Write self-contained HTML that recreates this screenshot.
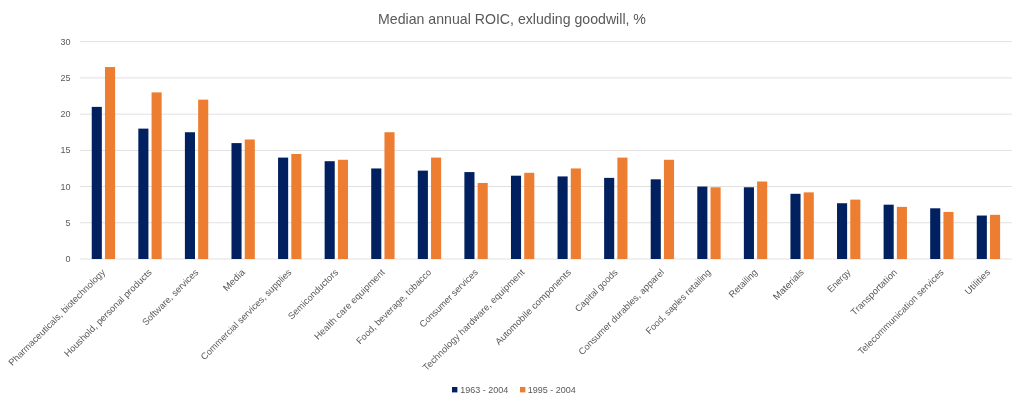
<!DOCTYPE html>
<html lang="en"><head><meta charset="utf-8"><title>Median annual ROIC</title>
<style>html,body{margin:0;padding:0;background:#fff;}body{width:1024px;height:406px;overflow:hidden;}svg{display:block;}text{font-family:"Liberation Sans",sans-serif;fill:#595959;}</style></head><body>
<svg width="1024" height="406" viewBox="0 0 1024 406">
<rect width="1024" height="406" fill="#fff"/>
<text x="512" y="23.8" font-size="14.1" text-anchor="middle" textLength="267.9" lengthAdjust="spacingAndGlyphs">Median annual ROIC, exluding goodwill, %</text>
<rect x="80.1" y="258.60" width="931.6" height="0.8" fill="#D9D9D9"/>
<text x="70.6" y="262.00" font-size="9" text-anchor="end">0</text>
<rect x="80.1" y="222.38" width="931.6" height="0.8" fill="#D9D9D9"/>
<text x="70.6" y="225.78" font-size="9" text-anchor="end">5</text>
<rect x="80.1" y="186.17" width="931.6" height="0.8" fill="#D9D9D9"/>
<text x="70.6" y="189.57" font-size="9" text-anchor="end">10</text>
<rect x="80.1" y="149.95" width="931.6" height="0.8" fill="#D9D9D9"/>
<text x="70.6" y="153.35" font-size="9" text-anchor="end">15</text>
<rect x="80.1" y="113.73" width="931.6" height="0.8" fill="#D9D9D9"/>
<text x="70.6" y="117.13" font-size="9" text-anchor="end">20</text>
<rect x="80.1" y="77.52" width="931.6" height="0.8" fill="#D9D9D9"/>
<text x="70.6" y="80.92" font-size="9" text-anchor="end">25</text>
<rect x="80.1" y="41.30" width="931.6" height="0.8" fill="#D9D9D9"/>
<text x="70.6" y="44.70" font-size="9" text-anchor="end">30</text>
<rect x="91.74" y="106.89" width="10.1" height="152.11" fill="#002060"/>
<rect x="104.99" y="67.05" width="10.1" height="191.95" fill="#ED7D31"/>
<rect x="138.32" y="128.62" width="10.1" height="130.38" fill="#002060"/>
<rect x="151.57" y="92.40" width="10.1" height="166.60" fill="#ED7D31"/>
<rect x="184.90" y="132.24" width="10.1" height="126.76" fill="#002060"/>
<rect x="198.15" y="99.65" width="10.1" height="159.35" fill="#ED7D31"/>
<rect x="231.48" y="143.11" width="10.1" height="115.89" fill="#002060"/>
<rect x="244.73" y="139.48" width="10.1" height="119.52" fill="#ED7D31"/>
<rect x="278.06" y="157.59" width="10.1" height="101.41" fill="#002060"/>
<rect x="291.31" y="153.97" width="10.1" height="105.03" fill="#ED7D31"/>
<rect x="324.64" y="161.21" width="10.1" height="97.79" fill="#002060"/>
<rect x="337.89" y="159.77" width="10.1" height="99.23" fill="#ED7D31"/>
<rect x="371.22" y="168.46" width="10.1" height="90.54" fill="#002060"/>
<rect x="384.47" y="132.24" width="10.1" height="126.76" fill="#ED7D31"/>
<rect x="417.80" y="170.63" width="10.1" height="88.37" fill="#002060"/>
<rect x="431.05" y="157.59" width="10.1" height="101.41" fill="#ED7D31"/>
<rect x="464.38" y="172.08" width="10.1" height="86.92" fill="#002060"/>
<rect x="477.63" y="182.94" width="10.1" height="76.06" fill="#ED7D31"/>
<rect x="510.96" y="175.70" width="10.1" height="83.30" fill="#002060"/>
<rect x="524.21" y="172.80" width="10.1" height="86.20" fill="#ED7D31"/>
<rect x="557.54" y="176.43" width="10.1" height="82.57" fill="#002060"/>
<rect x="570.79" y="168.46" width="10.1" height="90.54" fill="#ED7D31"/>
<rect x="604.12" y="177.87" width="10.1" height="81.13" fill="#002060"/>
<rect x="617.37" y="157.59" width="10.1" height="101.41" fill="#ED7D31"/>
<rect x="650.70" y="179.32" width="10.1" height="79.68" fill="#002060"/>
<rect x="663.95" y="159.77" width="10.1" height="99.23" fill="#ED7D31"/>
<rect x="697.28" y="186.57" width="10.1" height="72.43" fill="#002060"/>
<rect x="710.53" y="187.29" width="10.1" height="71.71" fill="#ED7D31"/>
<rect x="743.86" y="187.29" width="10.1" height="71.71" fill="#002060"/>
<rect x="757.11" y="181.50" width="10.1" height="77.50" fill="#ED7D31"/>
<rect x="790.44" y="193.81" width="10.1" height="65.19" fill="#002060"/>
<rect x="803.69" y="192.36" width="10.1" height="66.64" fill="#ED7D31"/>
<rect x="837.02" y="203.23" width="10.1" height="55.77" fill="#002060"/>
<rect x="850.27" y="199.60" width="10.1" height="59.40" fill="#ED7D31"/>
<rect x="883.60" y="204.68" width="10.1" height="54.32" fill="#002060"/>
<rect x="896.85" y="206.85" width="10.1" height="52.15" fill="#ED7D31"/>
<rect x="930.18" y="208.30" width="10.1" height="50.70" fill="#002060"/>
<rect x="943.43" y="211.92" width="10.1" height="47.08" fill="#ED7D31"/>
<rect x="976.76" y="215.54" width="10.1" height="43.46" fill="#002060"/>
<rect x="990.01" y="214.82" width="10.1" height="44.18" fill="#ED7D31"/>
<text transform="translate(105.79 272.90) rotate(-45)" font-size="9.30" text-anchor="end" textLength="132.2" lengthAdjust="spacingAndGlyphs">Pharmaceuticals, biotechnology</text>
<text transform="translate(152.37 272.90) rotate(-45)" font-size="9.30" text-anchor="end" textLength="119.4" lengthAdjust="spacingAndGlyphs">Houshold, personal products</text>
<text transform="translate(198.95 272.90) rotate(-45)" font-size="9.30" text-anchor="end" textLength="75.0" lengthAdjust="spacingAndGlyphs">Software, services</text>
<text transform="translate(245.53 272.90) rotate(-45)" font-size="9.30" text-anchor="end" textLength="26.5" lengthAdjust="spacingAndGlyphs">Media</text>
<text transform="translate(292.11 272.90) rotate(-45)" font-size="9.30" text-anchor="end" textLength="123.8" lengthAdjust="spacingAndGlyphs">Commercial services, supplies</text>
<text transform="translate(338.69 272.90) rotate(-45)" font-size="9.30" text-anchor="end" textLength="66.5" lengthAdjust="spacingAndGlyphs">Semiconductors</text>
<text transform="translate(385.27 272.90) rotate(-45)" font-size="9.30" text-anchor="end" textLength="95.3" lengthAdjust="spacingAndGlyphs">Health care equipment</text>
<text transform="translate(431.85 272.90) rotate(-45)" font-size="9.30" text-anchor="end" textLength="101.5" lengthAdjust="spacingAndGlyphs">Food, beverage, tobacco</text>
<text transform="translate(478.43 272.90) rotate(-45)" font-size="9.30" text-anchor="end" textLength="77.9" lengthAdjust="spacingAndGlyphs">Consumer services</text>
<text transform="translate(525.01 272.90) rotate(-45)" font-size="9.30" text-anchor="end" textLength="139.2" lengthAdjust="spacingAndGlyphs">Technology hardware, equipment</text>
<text transform="translate(571.59 272.90) rotate(-45)" font-size="9.30" text-anchor="end" textLength="102.8" lengthAdjust="spacingAndGlyphs">Automobile components</text>
<text transform="translate(618.17 272.90) rotate(-45)" font-size="9.30" text-anchor="end" textLength="55.9" lengthAdjust="spacingAndGlyphs">Capital goods</text>
<text transform="translate(664.75 272.90) rotate(-45)" font-size="9.30" text-anchor="end" textLength="116.8" lengthAdjust="spacingAndGlyphs">Consumer durables, apparel</text>
<text transform="translate(711.33 272.90) rotate(-45)" font-size="9.30" text-anchor="end" textLength="87.5" lengthAdjust="spacingAndGlyphs">Food, saples retailing</text>
<text transform="translate(757.91 272.90) rotate(-45)" font-size="9.30" text-anchor="end" textLength="35.8" lengthAdjust="spacingAndGlyphs">Retailing</text>
<text transform="translate(804.49 272.90) rotate(-45)" font-size="9.30" text-anchor="end" textLength="39.1" lengthAdjust="spacingAndGlyphs">Materials</text>
<text transform="translate(851.07 272.90) rotate(-45)" font-size="9.30" text-anchor="end" textLength="28.3" lengthAdjust="spacingAndGlyphs">Energy</text>
<text transform="translate(897.65 272.90) rotate(-45)" font-size="9.30" text-anchor="end" textLength="60.9" lengthAdjust="spacingAndGlyphs">Transportation</text>
<text transform="translate(944.23 272.90) rotate(-45)" font-size="9.30" text-anchor="end" textLength="116.6" lengthAdjust="spacingAndGlyphs">Telecommunication services</text>
<text transform="translate(990.81 272.90) rotate(-45)" font-size="9.30" text-anchor="end" textLength="31.7" lengthAdjust="spacingAndGlyphs">Utilities</text>
<rect x="452" y="387" width="5.4" height="5.4" fill="#002060"/>
<text x="460.2" y="392.5" font-size="9" textLength="48">1963 - 2004</text>
<rect x="520" y="387" width="5.4" height="5.4" fill="#ED7D31"/>
<text x="527.7" y="392.5" font-size="9" textLength="48">1995 - 2004</text>
</svg></body></html>
